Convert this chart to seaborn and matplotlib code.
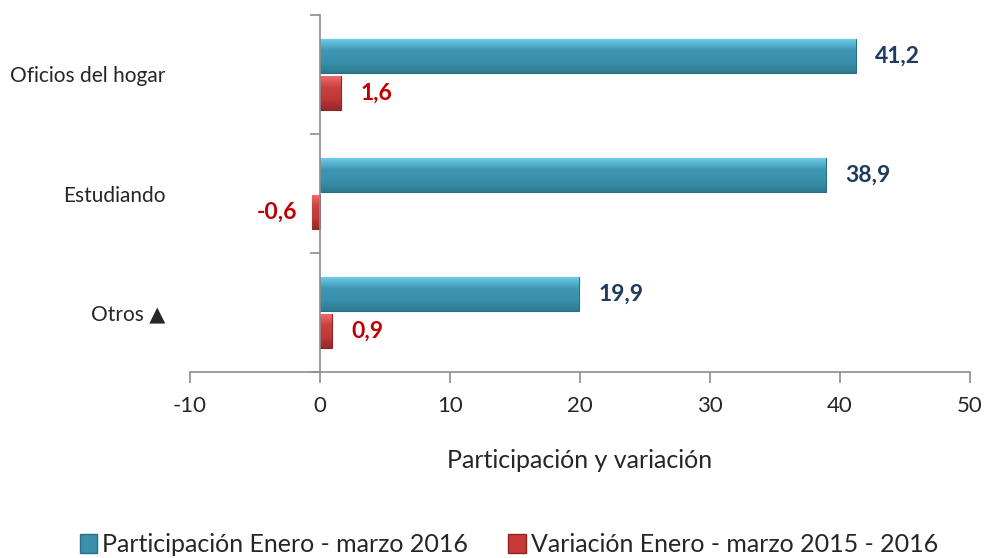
import matplotlib
matplotlib.use("Agg")
import matplotlib.pyplot as plt
import seaborn as sns
import numpy as np
import pandas as pd
from matplotlib.patches import Patch
from matplotlib.colors import LinearSegmentedColormap

categorias = ["Oficios del hogar", "Estudiando", "Otros \u25B2"]
participacion = [41.2, 38.9, 19.9]
variacion = [1.6, -0.6, 0.9]
serie_part = "Participación Enero - marzo 2016"
serie_var = "Variación Enero - marzo 2015 - 2016"
xticks = [-10, 0, 10, 20, 30, 40, 50]

df = pd.DataFrame({
    "categoria": categorias * 2,
    "valor": participacion + variacion,
    "serie": [serie_part] * 3 + [serie_var] * 3,
})

sns.set_theme(style="white")
plt.rcParams["font.family"] = ["Lato", "DejaVu Sans"]

col_part = "#3A90AB"
col_var = "#C63A3A"
edge_part = "#2A6E84"
edge_var = "#8E2424"
txt_part = "#1F3B5E"
txt_var = "#C00000"
gris = "#8C8C8C"

# shading ramps: light band on top, darker towards the bottom edge
grad_part = LinearSegmentedColormap.from_list(
    "gp", ["#6CCBE6", "#3E97B2", "#3A90AB", "#2D7A90"])
grad_var = LinearSegmentedColormap.from_list(
    "gv", ["#EE6A6A", "#C94040", "#C03838", "#962828"])

fig = plt.figure(figsize=(9.87, 5.58), dpi=100)
ax = fig.add_axes([190 / 987, 1 - 372 / 558, 780 / 987, 357 / 558])

sns.barplot(data=df, y="categoria", x="valor", hue="serie", orient="h",
            order=categorias, hue_order=[serie_part, serie_var],
            palette=[col_part, col_var], width=0.62, gap=0.09,
            ax=ax, legend=False, errorbar=None)

ax.set_xlim(-10, 50)
ax.set_ylim(2.5, -0.5)

# shaded fill inside each bar
grad = np.linspace(1, 0, 64).reshape(-1, 1)
for k, bar in enumerate(list(ax.patches)):
    is_part = k < 3
    bar.set_edgecolor(edge_part if is_part else edge_var)
    bar.set_linewidth(0.8)
    x0, y0 = bar.get_x(), bar.get_y()
    w, h = bar.get_width(), bar.get_height()
    im = ax.imshow(grad, cmap=grad_part if is_part else grad_var,
                   extent=[x0, x0 + w, y0 + h, y0], aspect="auto",
                   origin="lower", zorder=bar.get_zorder() + 0.1,
                   interpolation="bicubic")
    im.set_clip_path(bar)
ax.set_xlim(-10, 50)
ax.set_ylim(2.5, -0.5)

ax.set_xticks(xticks)
ax.set_xticklabels([str(t) for t in xticks], fontsize=16)
ax.tick_params(axis="x", direction="out", length=8, width=1.2, color=gris,
               pad=9, bottom=True)

# vertical axis sits at zero
for s in ["top", "right"]:
    ax.spines[s].set_visible(False)
ax.spines["left"].set_position(("data", 0))
for s in ["left", "bottom"]:
    ax.spines[s].set_color(gris)
    ax.spines[s].set_linewidth(1.2)
    ax.spines[s].set_zorder(5)

ax.set_yticks([0, 1, 2])
ax.set_yticklabels(categorias, fontsize=15)
ax.tick_params(axis="y", which="major", length=0, pad=111.5, left=True)
ax.set_yticks([-0.5, 0.5, 1.5, 2.5], minor=True)
ax.tick_params(axis="y", which="minor", direction="out", length=7, width=1.2,
               color=gris, left=True)

ax.set_ylabel("")
ax.set_xlabel("Participación y variación", fontsize=18, labelpad=24)

# value labels
for i, v in enumerate(participacion):
    ax.text(v + 1.5, i - 0.155, f"{v:.1f}".replace(".", ","), va="center",
            ha="left", fontsize=16.5, fontweight="bold", color=txt_part)
for i, v in enumerate(variacion):
    lbl = f"{v:.1f}".replace(".", ",")
    if v >= 0:
        ax.text(v + 1.5, i + 0.155, lbl, va="center", ha="left",
                fontsize=16.5, fontweight="bold", color=txt_var)
    else:
        ax.text(v - 1.15, i + 0.155, lbl, va="center", ha="right",
                fontsize=16.5, fontweight="bold", color=txt_var)

handles = [Patch(facecolor=col_part, edgecolor=edge_part, label=serie_part),
           Patch(facecolor=col_var, edgecolor=edge_var, label=serie_var)]
fig.legend(handles=handles, loc="center", bbox_to_anchor=(509 / 987, 1 - 545 / 558),
           ncol=2, frameon=False, fontsize=18, handlelength=0.7,
           handleheight=0.8, handletextpad=0.2, columnspacing=1.6,
           borderaxespad=0, borderpad=0)

fig.savefig("out.png", dpi=100)
